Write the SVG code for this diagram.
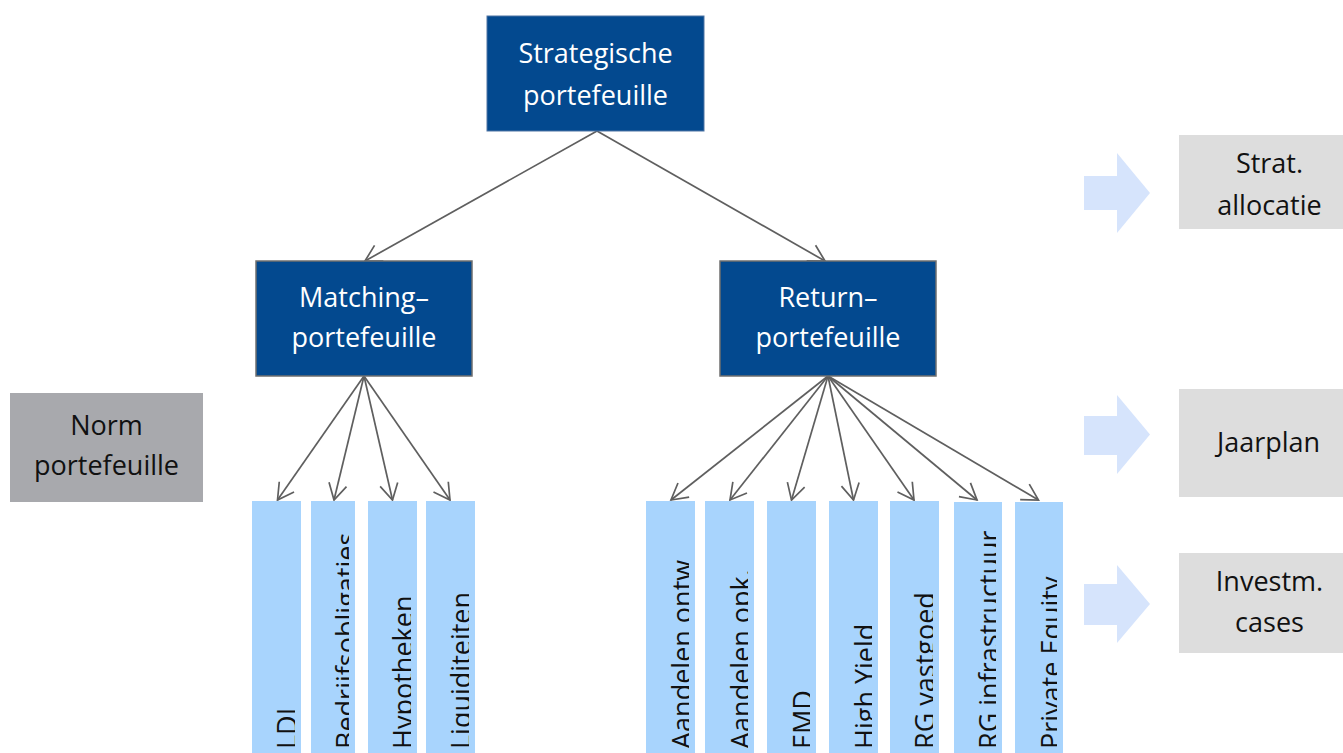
<svg xmlns="http://www.w3.org/2000/svg" width="1343" height="753" viewBox="0 0 1343 753">
<style>
text{font-family:"Open Sans","DejaVu Sans",sans-serif;font-size:27px}
.blue{fill:#03498F;stroke:#6f6f6f;stroke-width:1.5}
.wt{fill:#ffffff;text-anchor:middle}
.dt{fill:#111111;text-anchor:middle}
.bar{fill:#A8D4FD}
.bt{fill:#111111}
.gray{fill:#DDDDDD}
.rarrow{fill:#D6E4FC}
.conn line{stroke:#5f5f5f;stroke-width:1.7;fill:none;marker-end:url(#arr)}
</style>
<defs>
<marker id="arr" markerUnits="userSpaceOnUse" viewBox="-18 -10 20 20" refX="0" refY="0" markerWidth="20" markerHeight="20" orient="auto" overflow="visible">
<path d="M-16,-9 L0,0 L-16,9" fill="none" stroke="#5f5f5f" stroke-width="1.7"/>
</marker>
<clipPath id="c1" clipPathUnits="userSpaceOnUse"><rect x="252" y="501" width="43" height="252"/></clipPath>
<clipPath id="c2" clipPathUnits="userSpaceOnUse"><rect x="311" y="501" width="38" height="252"/></clipPath>
<clipPath id="c3" clipPathUnits="userSpaceOnUse"><rect x="368" y="501" width="43" height="252"/></clipPath>
<clipPath id="c4" clipPathUnits="userSpaceOnUse"><rect x="426" y="501" width="43" height="252"/></clipPath>
<clipPath id="c5" clipPathUnits="userSpaceOnUse"><rect x="646" y="501" width="43" height="252"/></clipPath>
<clipPath id="c6" clipPathUnits="userSpaceOnUse"><rect x="705" y="501" width="43" height="252"/></clipPath>
<clipPath id="c7" clipPathUnits="userSpaceOnUse"><rect x="767" y="501" width="43" height="252"/></clipPath>
<clipPath id="c8" clipPathUnits="userSpaceOnUse"><rect x="829" y="501" width="43" height="252"/></clipPath>
<clipPath id="c9" clipPathUnits="userSpaceOnUse"><rect x="890" y="501" width="43" height="252"/></clipPath>
<clipPath id="c10" clipPathUnits="userSpaceOnUse"><rect x="954" y="502" width="42" height="251"/></clipPath>
<clipPath id="c11" clipPathUnits="userSpaceOnUse"><rect x="1015" y="502" width="42" height="251"/></clipPath>
</defs>

<g class="conn" id="connectors">
<line x1="597" y1="131" x2="365" y2="261"/>
<line x1="597" y1="131" x2="825" y2="261"/>
<line x1="364" y1="376" x2="277.5" y2="500"/>
<line x1="364" y1="376" x2="334" y2="500"/>
<line x1="364" y1="376" x2="392.5" y2="500"/>
<line x1="364" y1="376" x2="450" y2="500"/>
<line x1="828" y1="376" x2="671" y2="500"/>
<line x1="828" y1="376" x2="730" y2="500"/>
<line x1="828" y1="376" x2="791.5" y2="500"/>
<line x1="828" y1="376" x2="853.5" y2="500"/>
<line x1="828" y1="376" x2="914" y2="500"/>
<line x1="828" y1="376" x2="977" y2="500"/>
<line x1="828" y1="376" x2="1038.5" y2="500"/>
</g>

<g id="strategische">
<rect class="blue" x="487" y="16" width="217" height="115" style="stroke:#4f74a3;stroke-width:1"/>
<text class="wt" x="595.5" y="62.7">Strategische</text>
<text class="wt" x="595.5" y="104.7">portefeuille</text>
</g>

<g id="matching">
<rect class="blue" x="256" y="261" width="216" height="115"/>
<text class="wt" x="364" y="307.3">Matching–</text>
<text class="wt" x="364" y="347.3">portefeuille</text>
</g>

<g id="return">
<rect class="blue" x="720" y="261" width="216" height="115"/>
<text class="wt" x="828" y="307.3">Return–</text>
<text class="wt" x="828" y="347.3">portefeuille</text>
</g>

<g id="norm">
<rect x="10" y="393" width="193" height="109" fill="#A8A9AD"/>
<text class="dt" x="106.5" y="435">Norm</text>
<text class="dt" x="106.5" y="475">portefeuille</text>
</g>

<g id="bar-ldi">
<rect class="bar" x="252" y="501" width="49" height="252"/>
<g clip-path="url(#c1)"><text class="bt" transform="translate(297,749) rotate(-90)">LDI</text></g>
</g>
<g id="bar-bedrijfsobligaties">
<rect class="bar" x="311" y="501" width="44" height="252"/>
<g clip-path="url(#c2)"><text class="bt" transform="translate(356,749) rotate(-90)">Bedrijfsobligaties</text></g>
</g>
<g id="bar-hypotheken">
<rect class="bar" x="368" y="501" width="49" height="252"/>
<g clip-path="url(#c3)"><text class="bt" transform="translate(413.3,749) rotate(-90)">Hypotheken</text></g>
</g>
<g id="bar-liquiditeiten">
<rect class="bar" x="426" y="501" width="49" height="252"/>
<g clip-path="url(#c4)"><text class="bt" transform="translate(471.3,749) rotate(-90)">Liquiditeiten</text></g>
</g>

<g id="bar-aandelen-ontw">
<rect class="bar" x="646" y="501" width="49" height="252"/>
<g clip-path="url(#c5)"><text class="bt" transform="translate(692.3,749) rotate(-90)">Aandelen ontw</text></g>
</g>
<g id="bar-aandelen-opk">
<rect class="bar" x="705" y="501" width="49" height="252"/>
<g clip-path="url(#c6)"><text class="bt" transform="translate(751.3,749) rotate(-90)">Aandelen opk.</text></g>
</g>
<g id="bar-emd">
<rect class="bar" x="767" y="501" width="49" height="252"/>
<g clip-path="url(#c7)"><text class="bt" transform="translate(813.3,749) rotate(-90)">EMD</text></g>
</g>
<g id="bar-high-yield">
<rect class="bar" x="829" y="501" width="49" height="252"/>
<g clip-path="url(#c8)"><text class="bt" transform="translate(875.3,749) rotate(-90)">High Yield</text></g>
</g>
<g id="bar-rg-vastgoed">
<rect class="bar" x="890" y="501" width="49" height="252"/>
<g clip-path="url(#c9)"><text class="bt" transform="translate(935,749) rotate(-90)">RG vastgoed</text></g>
</g>
<g id="bar-rg-infrastructuur">
<rect class="bar" x="954" y="502" width="48" height="251"/>
<g clip-path="url(#c10)"><text class="bt" transform="translate(999.3,749) rotate(-90)">RG infrastructuur</text></g>
</g>
<g id="bar-private-equity">
<rect class="bar" x="1015" y="502" width="48" height="251"/>
<g clip-path="url(#c11)"><text class="bt" transform="translate(1060.7,749) rotate(-90)">Private Equity</text></g>
</g>

<g id="arrow-strat">
<polygon class="rarrow" points="1084,176 1117,176 1117,153 1150,193 1117,233 1117,210 1084,210"/>
</g>
<g id="strat-allocatie">
<rect class="gray" x="1179" y="135" width="180" height="94"/>
<text class="dt" x="1269.5" y="173.3">Strat.</text>
<text class="dt" x="1269.5" y="215">allocatie</text>
</g>

<g id="arrow-jaarplan">
<polygon class="rarrow" points="1084,416 1117,416 1117,395 1150,434.5 1117,474 1117,455 1084,455"/>
</g>
<g id="jaarplan">
<rect class="gray" x="1179" y="389" width="180" height="108"/>
<text class="dt" x="1268.5" y="452.3">Jaarplan</text>
</g>

<g id="arrow-investm">
<polygon class="rarrow" points="1084,584 1117,584 1117,565 1150,604 1117,643 1117,625 1084,625"/>
</g>
<g id="investm-cases">
<rect class="gray" x="1179" y="553" width="180" height="100"/>
<text class="dt" x="1269.5" y="590.7">Investm.</text>
<text class="dt" x="1269.5" y="631.7">cases</text>
</g>
</svg>
